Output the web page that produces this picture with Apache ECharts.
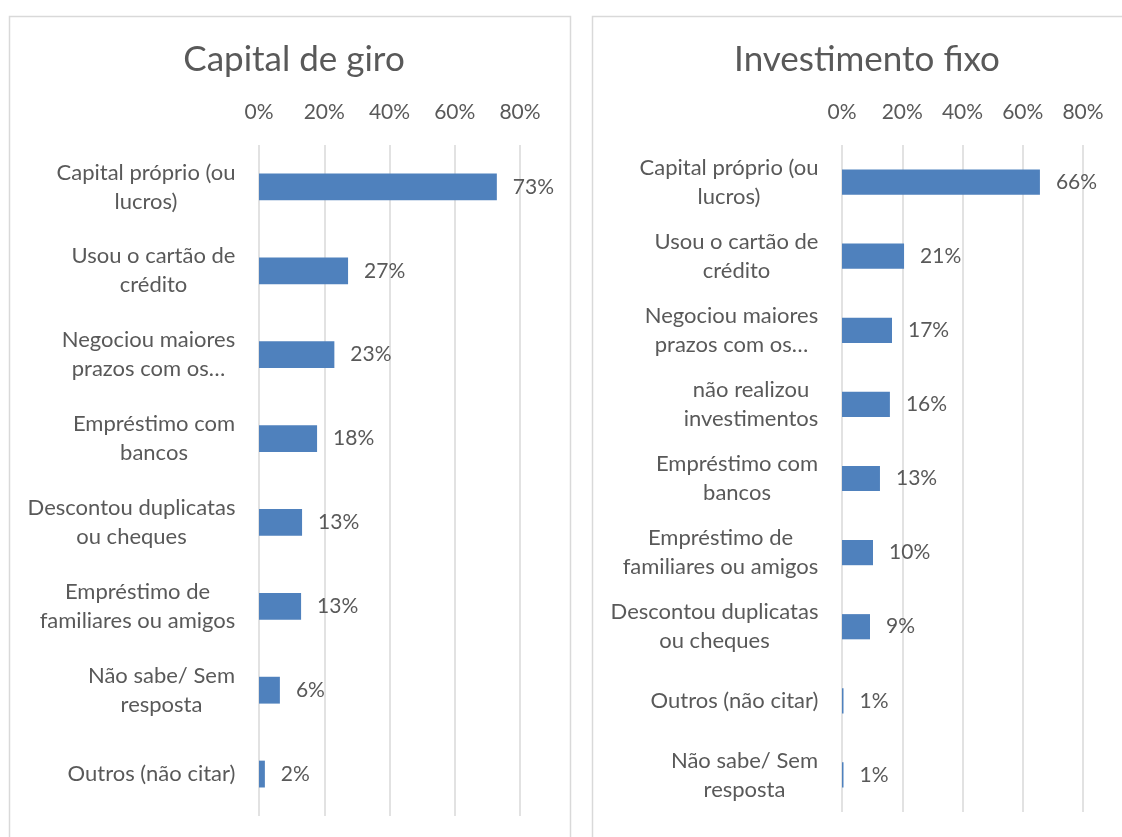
<!DOCTYPE html>
<html>
<head>
<meta charset="utf-8">
<script src="https://cdn.jsdelivr.net/npm/echarts@6/dist/echarts.min.js"></script>
<style>
  html, body { margin: 0; padding: 0; background: #fff; }
  #chart { width: 1122px; height: 837px; }
</style>
</head>
<body>
<div id="chart"></div>
<script>
// data (top to bottom)
var giroCats = [
  'Capital próprio (ou\nlucros)',
  'Usou o cartão de\ncrédito',
  'Negociou maiores\nprazos com os…',
  'Empréstimo com\nbancos',
  'Descontou duplicatas\nou cheques',
  'Empréstimo de\nfamiliares ou amigos',
  'Não sabe/ Sem\nresposta',
  'Outros (não citar)'
];
var giroVals = [0.729, 0.273, 0.231, 0.178, 0.132, 0.129, 0.064, 0.018];

var fixoCats = [
  'Capital próprio (ou\nlucros)',
  'Usou o cartão de\ncrédito',
  'Negociou maiores\nprazos com os…',
  'não realizou\ninvestimentos',
  'Empréstimo com\nbancos',
  'Empréstimo de\nfamiliares ou amigos',
  'Descontou duplicatas\nou cheques',
  'Outros (não citar)',
  'Não sabe/ Sem\nresposta'
];
var fixoVals = [0.657, 0.206, 0.166, 0.159, 0.126, 0.103, 0.093, 0.005, 0.005];

var titles = ['Capital de giro', 'Investimento fixo'];
var tickMax = 0.8;
var tickStep = 0.2;

var FONT = 'Lato';
var TXT = '#595959';
var GRID = '#D9D9D9';
var BAR = '#4F81BD';
var CAT_SIZE = 22;
var NUM_SIZE = 21;

// wrapped category labels: block right-aligned, lines centred (like Excel)
var ctx = document.createElement('canvas').getContext('2d');
ctx.font = CAT_SIZE + 'px ' + FONT;
function centredLabels(cats, prefix) {
  var rich = {};
  cats.forEach(function (c, i) {
    var w = Math.max.apply(null, c.split('\n').map(function (l) { return ctx.measureText(l).width; }));
    rich[prefix + i] = { width: Math.ceil(w) + 1, align: 'center', fontSize: CAT_SIZE, fontFamily: FONT, color: TXT, lineHeight: 29 };
  });
  return {
    rich: rich,
    formatter: function (v) {
      var i = cats.indexOf(v);
      return v.split('\n').map(function (l) { return '{' + prefix + i + '|' + l + '}'; }).join('\n');
    }
  };
}
var giroLab = centredLabels(giroCats, 'g');
var fixoLab = centredLabels(fixoCats, 'f');

function xAxisFor(idx) {
  return {
    gridIndex: idx, type: 'value', position: 'top',
    min: 0, max: tickMax, interval: tickStep,
    axisLine: { show: false }, axisTick: { show: false },
    splitLine: { show: true, lineStyle: { color: GRID, width: 1.5 } },
    axisLabel: {
      color: TXT, fontFamily: FONT, fontSize: NUM_SIZE, margin: 22,
      formatter: function (v) { return Math.round(v * 100) + '%'; }
    }
  };
}
function yAxisFor(idx, cats, lab) {
  return {
    gridIndex: idx, type: 'category', inverse: true, data: cats,
    axisLine: { show: false }, axisTick: { show: false },
    axisLabel: { margin: 23, align: 'right', formatter: lab.formatter, rich: lab.rich }
  };
}
function barFor(idx, vals, gap) {
  return {
    type: 'bar', xAxisIndex: idx, yAxisIndex: idx, data: vals,
    barCategoryGap: gap,
    itemStyle: { color: BAR },
    label: {
      show: true, position: 'right', distance: 16,
      color: TXT, fontFamily: FONT, fontSize: NUM_SIZE,
      formatter: function (p) { return Math.round(p.value * 100) + '%'; }
    }
  };
}

var chart = echarts.init(document.getElementById('chart'));
chart.setOption({
  backgroundColor: '#fff',
  animation: false,
  textStyle: { fontFamily: FONT },
  graphic: [
    { type: 'rect', shape: { x: 9.5, y: 16.5, width: 561, height: 900 }, style: { fill: 'none', stroke: GRID, lineWidth: 1.5 }, z: -1 },
    { type: 'rect', shape: { x: 592.5, y: 16.5, width: 560, height: 900 }, style: { fill: 'none', stroke: GRID, lineWidth: 1.5 }, z: -1 }
  ],
  title: [
    { text: titles[0], left: 289, top: 37, textAlign: 'center',
      textStyle: { color: TXT, fontFamily: FONT, fontSize: 35, fontWeight: 'normal' } },
    { text: titles[1], left: 862, top: 37, textAlign: 'center',
      textStyle: { color: TXT, fontFamily: FONT, fontSize: 35, fontWeight: 'normal' } }
  ],
  grid: [
    { left: 259, top: 145, width: 261, height: 671 },
    { left: 842, top: 145, width: 241, height: 667 }
  ],
  xAxis: [xAxisFor(0), xAxisFor(1)],
  yAxis: [yAxisFor(0, giroCats, giroLab), yAxisFor(1, fixoCats, fixoLab)],
  series: [barFor(0, giroVals, '68%'), barFor(1, fixoVals, '66%')]
});
</script>
</body>
</html>
